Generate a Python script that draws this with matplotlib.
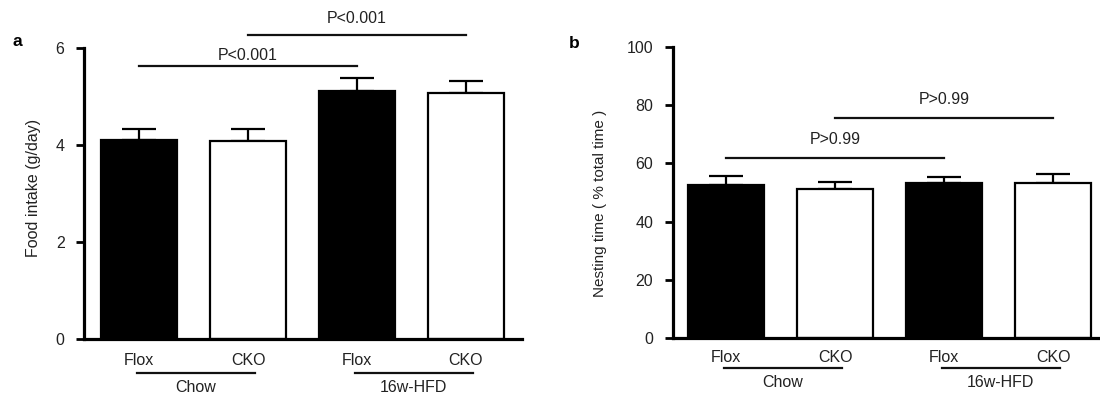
import matplotlib
matplotlib.use('Agg')
import matplotlib.pyplot as plt

plt.rcParams['font.family'] = ['Liberation Sans', 'DejaVu Sans']

# data
genotypes = ['Flox', 'CKO', 'Flox', 'CKO']
diets = ['Chow', '16w-HFD']
bar_colors = ['black', 'white', 'black', 'white']

food_mean = [4.11, 4.09, 5.12, 5.08]
food_err = [0.23, 0.25, 0.26, 0.25]
food_p = ['P<0.001', 'P<0.001']

nest_mean = [52.6, 51.1, 53.1, 53.1]
nest_err = [3.1, 2.6, 2.3, 3.2]
nest_p = ['P>0.99', 'P>0.99']

fig = plt.figure(figsize=(11, 3.99), dpi=100)


def panel(pos, means, errs, ymax, yticks, ylabel, ylab_xy, ylab_size, xlim,
          pvals, sig_y, txt_y, grp_line_y, grp_txt_y, tick_pad, letter,
          letter_xy):
    ax = fig.add_axes(pos)
    x = list(range(len(means)))
    ax.bar(x, means, width=0.69, color=bar_colors, edgecolor='black',
           linewidth=1.6, zorder=2)
    # upper error bars only
    ax.errorbar(x, means, yerr=[[0] * len(errs), errs], fmt='none',
                ecolor='black', elinewidth=1.6, capsize=12.5, capthick=1.6,
                zorder=1)
    ax.set_xlim(*xlim)
    ax.set_ylim(0, ymax)
    ax.set_yticks(yticks)
    ax.set_xticks(x)
    ax.set_xticklabels(genotypes)
    ax.tick_params(axis='x', length=0, pad=tick_pad, labelsize=11.5,
                   labelcolor='#222222')
    ax.tick_params(axis='y', length=6, width=2, pad=8, labelsize=11.5,
                   labelcolor='#222222')
    for s in ['top', 'right']:
        ax.spines[s].set_visible(False)
    for s in ['left', 'bottom']:
        ax.spines[s].set_linewidth(2.3)
    ax.set_ylabel(ylabel, fontsize=ylab_size, color='#222222', va='center')
    ax.yaxis.set_label_coords(*ylab_xy)

    # significance bars: first vs third, second vs fourth
    pairs = [(0, 2), (1, 3)]
    for (a, b), p, ly, ty in zip(pairs, pvals, sig_y, txt_y):
        ax.plot([a, b], [ly, ly], color='#111111', lw=1.6, clip_on=False)
        ax.text((a + b) / 2, ty, p, ha='center', va='bottom', fontsize=11.5,
                color='#222222')

    # group labels under the x axis
    tr = ax.get_xaxis_transform()
    for g, name in enumerate(diets):
        x0 = 2 * g - 0.02
        x1 = 2 * g + 1 + 0.06
        ax.plot([x0, x1], [grp_line_y, grp_line_y], color='#111111', lw=1.6,
                transform=tr, clip_on=False)
        ax.text((x0 + x1) / 2, grp_txt_y, name, ha='center', va='center',
                fontsize=11.5, color='#222222', transform=tr)

    fig.text(letter_xy[0], letter_xy[1], letter, fontsize=12.5,
             fontweight='bold', ha='center', va='center')
    return ax


panel([84 / 1100, 0.1496, 438 / 1100, 0.7294], food_mean, food_err, 6,
      [0, 2, 4, 6], 'Food intake (g/day)', (-0.116, 0.52), 11.5,
      (-0.505, 3.514), food_p, [5.63, 6.27], [5.70, 6.46], -0.115, -0.167,
      10, 'a', (17 / 1100, 1 - 42 / 399))

panel([672.7 / 1100, 0.1524, 427.3 / 1100, 0.7306], nest_mean, nest_err,
      100, [0, 20, 40, 60, 80, 100], 'Nesting time ( % total time )',
      (-0.170, 0.464), 11, (-0.489, 3.431), nest_p, [61.7, 75.6],
      [65.5, 79.4], -0.103, -0.152, 8.5, 'b', (574 / 1100, 1 - 43 / 399))

fig.savefig('out.png', dpi=100)
